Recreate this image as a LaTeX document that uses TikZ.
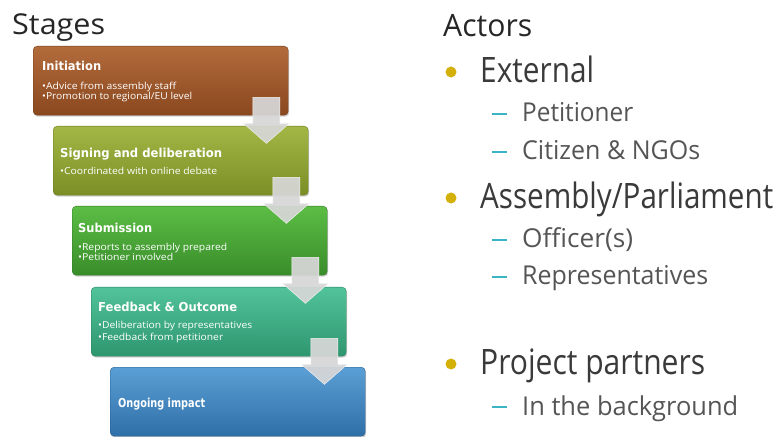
\documentclass[tikz,border=0pt]{standalone}
\usepackage{fontspec}
\setmainfont{Open Sans}
\newfontfamily\titlefont{DejaVu Sans}
\usepackage{graphicx}
\usetikzlibrary{shadows,calc}
\newcommand{\fitw}[3]{\resizebox{#1bp}{\height}{\fontsize{#2bp}{#2bp}\selectfont #3}}
\definecolor{brownT}{HTML}{B26B3B}\definecolor{brownB}{HTML}{8A481F}
\definecolor{oliveT}{HTML}{A2B745}\definecolor{oliveB}{HTML}{7B8E26}
\definecolor{greenT}{HTML}{5CBD45}\definecolor{greenB}{HTML}{398D2A}
\definecolor{tealT}{HTML}{52C39A}\definecolor{tealB}{HTML}{2E966F}
\definecolor{blueT}{HTML}{5A9FD5}\definecolor{blueB}{HTML}{2F6FA7}
\definecolor{arrowgray}{HTML}{D7D7D7}
\definecolor{dotgold}{HTML}{D4B108}
\definecolor{dashteal}{HTML}{3BB4C4}
\definecolor{darktext}{HTML}{262626}
\definecolor{midtext}{HTML}{3A3A3A}
\definecolor{subtext}{HTML}{555555}
\tikzset{
  stagebox/.style n args={2}{rectangle, rounded corners=4bp, minimum width=255bp,
    minimum height=69bp, anchor=north west, inner sep=0pt,
    top color=#1, bottom color=#2, draw=#2!85!black, line width=0.4bp,
    drop shadow={opacity=0.35, shadow xshift=1bp, shadow yshift=-1.5bp}},
  txt/.style={anchor=base west, inner sep=0pt, text=white},
  rtxt/.style={anchor=base west, inner sep=0pt},
  downarrow/.style={fill=arrowgray, fill opacity=0.93, draw=white!92!gray, line width=0.4bp},
  golddot/.style={fill=dotgold, draw=none},
  tealdash/.style={draw=dashteal, line width=2.4bp}
}
\begin{document}
\begin{tikzpicture}[x=1bp,y=-1bp]
\useasboundingbox (0,0) rectangle (778,437);
\fill[white] (0,0) rectangle (778,437);

% stage boxes
\node[stagebox={brownT}{brownB}] (b1) at (33,46) {};
\node[stagebox={oliveT}{oliveB}] (b2) at (53,126) {};
\node[stagebox={greenT}{greenB}] (b3) at (72,206) {};
\node[stagebox={tealT}{tealB}] (b4) at (91,287) {};
\node[stagebox={blueT}{blueB}] (b5) at (110,367) {};

% down arrows
\foreach \i in {1,2,3,4}{
  \draw[downarrow]
    ($(b\i.south east)+(-35.5,-18)$) -- ($(b\i.south east)+(-8.5,-18)$)
    -- ($(b\i.south east)+(-8.5,8)$) -- ($(b\i.south east)+(1,8)$)
    -- ($(b\i.south east)+(-22,28)$) -- ($(b\i.south east)+(-45,8)$)
    -- ($(b\i.south east)+(-35.5,8)$) -- cycle;
}

% box texts
\node[txt] (t1) at (42,71) {\fitw{59}{12.3}{\titlefont\bfseries Initiation}};
\node[txt] (t1a) at (42,90) {\fitw{134}{9.6}{•Advice from assembly staff}};
\node[txt] (t1b) at (42,100) {\fitw{150}{9.6}{•Promotion to regional/EU level}};

\node[txt] (t2) at (60,158) {\fitw{162}{12.3}{\titlefont\bfseries Signing and deliberation}};
\node[txt] (t2a) at (60,175) {\fitw{157}{9.6}{•Coordinated with online debate}};

\node[txt] (t3) at (78,233) {\fitw{74}{12.3}{\titlefont\bfseries Submission}};
\node[txt] (t3a) at (78,251) {\fitw{149}{9.6}{•Reports to assembly prepared}};
\node[txt] (t3b) at (78,261) {\fitw{95}{9.6}{•Petitioner involved}};

\node[txt] (t4) at (98,312) {\fitw{139}{12.3}{\titlefont\bfseries Feedback \& Outcome}};
\node[txt] (t4a) at (98,329) {\fitw{154}{9.6}{•Deliberation by representatives}};
\node[txt] (t4b) at (98,341) {\fitw{125}{9.6}{•Feedback from petitioner}};

\node[txt] (t5) at (118,407) {\fitw{87}{12.3}{\titlefont\bfseries Ongoing impact}};

% headings
\node[rtxt, text=darktext] (stages) at (12,35) {\fitw{93}{28.7}{Stages}};
\node[rtxt, text=darktext] (actors) at (443,37) {\fitw{89}{30.8}{Actors}};

% level 1
\fill[golddot] (451,72) circle (5.5);
\node[rtxt, text=midtext] (ext) at (480,82.5) {\fitw{114}{35}{External}};
\fill[golddot] (451,198) circle (5.5);
\node[rtxt, text=midtext] (asm) at (480,209) {\fitw{293}{35}{Assembly/Parliament}};
\fill[golddot] (451,364) circle (5.5);
\node[rtxt, text=midtext] (pp) at (480,375) {\fitw{225}{35}{Project partners}};

% level 2
\draw[tealdash] (492,114) -- (507,114);
\node[rtxt, text=subtext] (pet) at (522,122) {\fitw{111}{26}{Petitioner}};
\draw[tealdash] (492,152) -- (507,152);
\node[rtxt, text=subtext] (cit) at (522,160) {\fitw{178}{26}{Citizen \& NGOs}};
\draw[tealdash] (492,240) -- (507,240);
\node[rtxt, text=subtext] (off) at (522,248) {\fitw{111}{26}{Officer(s)}};
\draw[tealdash] (492,277) -- (507,277);
\node[rtxt, text=subtext] (rep) at (522,285) {\fitw{186}{26}{Representatives}};
\draw[tealdash] (492,407) -- (507,407);
\node[rtxt, text=subtext] (bg) at (522,415) {\fitw{216}{26}{In the background}};
\end{tikzpicture}
\end{document}
